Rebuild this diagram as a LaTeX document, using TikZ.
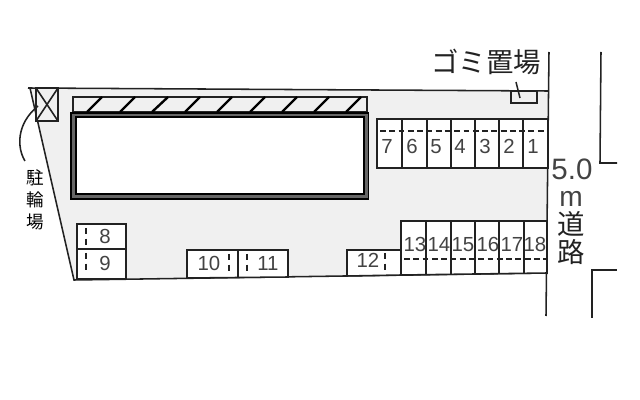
\documentclass[tikz,border=0pt]{standalone}
\usepackage{fontspec}
\setmainfont{Liberation Sans}
\newfontfamily\jpfont{Noto Sans CJK JP}
\definecolor{lotgray}{HTML}{F0F0F0}
\definecolor{inkline}{HTML}{222222}
\definecolor{bandgray}{HTML}{666666}
\begin{document}
\begin{tikzpicture}[x=0.025cm,y=-0.025cm,line join=miter,
	wall/.style={draw=inkline,line width=1.1pt},
	hatchline/.style={draw=black,line width=1.7pt},
	dashline/.style={draw=inkline,line width=0.9pt,dash pattern=on 4.2pt off 2.4pt},
	vdash/.style={draw=inkline,line width=0.9pt,dash pattern=on 4.5pt off 3pt},
	num/.style={inner sep=0pt,anchor=base,text=inkline!85,font=\fontsize{14.5}{14}\selectfont},
	roadtext/.style={inner sep=0pt,text=inkline,font=\fontsize{19.5}{20}\jpfont},
	smalltext/.style={inner sep=0pt,text=black,font=\fontsize{12.5}{13}\jpfont}]
	\useasboundingbox (0,0) rectangle (640,400);
	% site
	\fill[lotgray] (30,88) -- (548,91) -- (546,273) -- (74,280) -- cycle;
	\draw[wall] (28,88) -- (548,91);
	\draw[wall] (30,88) -- (74,280) -- (547,273);
	% road
	\draw[wall] (549,52) -- (546,316);
	\draw[wall] (601,52) -- (600,163) -- (617,163);
	\draw[wall] (592,318) -- (592,270) -- (617,270);
	% building
	\draw[wall,fill=lotgray] (73,97) rectangle (367,112);
	\draw[hatchline] (87,112) -- (102,97);
	\draw[hatchline] (120,112) -- (135,97);
	\draw[hatchline] (152,112) -- (168,97);
	\draw[hatchline] (185,112) -- (200,97);
	\draw[hatchline] (217,112) -- (232,97);
	\draw[hatchline] (250,112) -- (265,97);
	\draw[hatchline] (282,112) -- (297,97);
	\draw[hatchline] (314,112) -- (329,97);
	\draw[hatchline] (346,112) -- (361,97);
	\fill[black] (70,112) rectangle (369,200);
	\fill[bandgray] (71.5,114) rectangle (367.5,198.5);
	\draw[draw=black,fill=white,line width=1.2pt] (76,117) rectangle (364,194);
	% bicycle shed
	\draw[wall,fill=lotgray] (36,88) rectangle (58,121);
	\draw[wall] (36,88) -- (58,121);
	\draw[wall] (58,88) -- (36,121);
	\draw[wall] (38,106) .. controls (16,124) and (17,148) .. (25,161);
	\node[smalltext] (shedA) at (35,178) {駐};
	\node[smalltext] (shedB) at (35,200) {輪};
	\node[smalltext] (shedC) at (35,222) {場};
	% garbage
	\draw[wall,fill=lotgray] (511,91) rectangle (537,103);
	\draw[wall] (516,82) -- (520,98);
	\node[inner sep=0pt,text=inkline,font=\fontsize{19.5}{20}\jpfont] (garbage) at (486,62) {ゴミ置場};
	% road label
	\node[num,font=\fontsize{21}{21}\selectfont] (width) at (572,180) {5.0};
	\node[num,font=\fontsize{20}{20}\selectfont] (unit) at (571,207) {m};
	\node[roadtext] (roadA) at (571,224) {道};
	\node[roadtext] (roadB) at (571,252) {路};
	% slots 1 to 7
	\draw[wall,fill=white] (377,119) rectangle (548,168);
	\draw[wall] (402,119) -- (402,168);
	\draw[wall] (427,119) -- (427,168);
	\draw[wall] (451,119) -- (451,168);
	\draw[wall] (475,119) -- (475,168);
	\draw[wall] (499,119) -- (499,168);
	\draw[wall] (523,119) -- (523,168);
	\draw[dashline] (380,131) -- (547,131);
	\node[num] (s7) at (387,154) {7};
	\node[num] (s6) at (412,154) {6};
	\node[num] (s5) at (436,154) {5};
	\node[num] (s4) at (460,154) {4};
	\node[num] (s3) at (485,154) {3};
	\node[num] (s2) at (509,154) {2};
	\node[num] (s1) at (533,154) {1};
	% slots 13 to 18
	\draw[wall,fill=white] (401,221) -- (547,221) -- (547,273) -- (401,275) -- cycle;
	\draw[wall] (426,221) -- (426,274);
	\draw[wall] (451,221) -- (451,274);
	\draw[wall] (475,221) -- (475,274);
	\draw[wall] (499,221) -- (499,274);
	\draw[wall] (524,221) -- (524,273);
	\draw[dashline] (404,259) -- (546,259);
	\node[num] (s13) at (415,252) {13};
	\node[num] (s14) at (439,252) {14};
	\node[num] (s15) at (463,252) {15};
	\node[num] (s16) at (488,252) {16};
	\node[num] (s17) at (512,252) {17};
	\node[num] (s18) at (535,252) {18};
	% slot 12
	\draw[wall,fill=white] (347,250) -- (401,250) -- (401,275) -- (347,276) -- cycle;
	\draw[vdash] (385,253) -- (385,272);
	\node[num] (s12) at (368,268) {12};
	% slots 8 and 9
	\draw[wall,fill=white] (77,224) rectangle (126,279);
	\draw[wall] (77,249) -- (126,249);
	\draw[vdash] (86,228) -- (86,247);
	\draw[vdash] (86,253) -- (86,272);
	\node[num] (s8) at (105,244) {8};
	\node[num] (s9) at (105,271) {9};
	% slots 10 and 11
	\draw[wall,fill=white] (187,250) -- (288,250) -- (288,277) -- (187,278) -- cycle;
	\draw[wall] (238,250) -- (238,278);
	\draw[vdash] (229,254) -- (229,273);
	\draw[vdash] (247,254) -- (247,273);
	\node[num] (s10) at (209,271) {10};
	\node[num] (s11) at (268,271) {11};
\end{tikzpicture}
\end{document}
